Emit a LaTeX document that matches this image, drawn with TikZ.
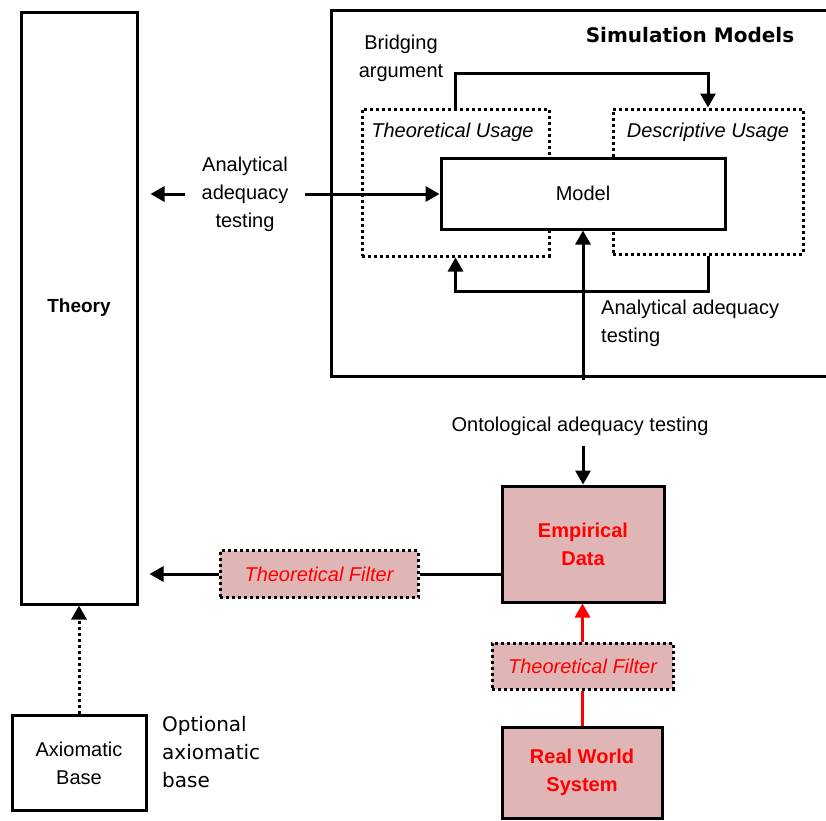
\documentclass[tikz,border=0pt]{standalone}
\usepackage{fontspec}
\setmainfont{Liberation Sans}
\newfontfamily\djv{DejaVu Sans}
\usetikzlibrary{arrows.meta}
\definecolor{filterpink}{HTML}{E0B5B5}
\tikzset{
  basefont/.style={font=\fontsize{20}{28}\selectfont},
  solidbox/.style={draw, line width=3pt, fill=white, inner sep=0pt, basefont},
  dotbox/.style={draw, line width=3pt, dash pattern=on 3pt off 3pt, inner sep=0pt, basefont},
  pinkbox/.style={solidbox, fill=filterpink, text=red, font=\fontsize{20}{28}\selectfont\bfseries, align=center},
  filterbox/.style={dotbox, fill=filterpink, text=red, font=\fontsize{20}{28}\selectfont\itshape},
  lbl/.style={basefont, inner sep=0pt, align=center},
  conn/.style={line width=3pt},
  arr/.style={conn, -{Triangle[length=14pt,width=15pt]}},
  dotarr/.style={line width=3pt, dash pattern=on 3pt off 3pt, -{Triangle[length=14pt,width=15pt]}}
}
\begin{document}
\begin{tikzpicture}[x=1pt,y=-1pt]
\useasboundingbox (0,0) rectangle (826,820);

% simulation models frame (open to the right)
\coordinate (simTR) at (840,10);
\coordinate (simTL) at (331,10);
\coordinate (simBL) at (331,376);
\coordinate (simBR) at (840,376);
\draw[conn] (simTR) -- (simTL) -- (simBL) -- (simBR);
\node[lbl, font=\djv\fontsize{20}{28}\selectfont\bfseries] (simTitle) at (690,35) {Simulation Models};

% usage regions and model
\node[dotbox, minimum width=187pt, minimum height=147pt] (theoUse) at (455.5,182.5) {};
\node[dotbox, minimum width=190pt, minimum height=145pt] (descUse) at (708,181.5) {};
\node[lbl, font=\fontsize{20}{28}\selectfont\itshape] (theoUseLbl) at (452.5,132) {Theoretical Usage};
\node[lbl, font=\fontsize{20}{28}\selectfont\itshape] (descUseLbl) at (708,132) {Descriptive Usage};
\node[solidbox, minimum width=284pt, minimum height=71pt] (model) at (583,193.5) {Model};

\node[lbl] (bridgeLbl) at (401,58.5) {Bridging\\argument};
\draw[arr] (theoUse.north) -- ++(0,-34) -| (descUse.north);
\draw[arr] (descUse.south) -- ++(0,36) -| (theoUse.south);
\node[lbl, anchor=west, align=left] (analRight) at (601,323) {Analytical adequacy\\testing};

% theory column
\node[solidbox, minimum width=116pt, minimum height=592pt, font=\fontsize{19}{26}\selectfont\bfseries] (theory) at (79,308) {Theory};

\node[lbl, inner xsep=16pt] (analLeft) at (245,194) {Analytical\\adequacy\\testing};
\draw[arr] (analLeft.east) -- (analLeft.east -| model.west);
\draw[arr, shorten >=12pt] (analLeft.west) -- (analLeft.west -| theory.east);

% empirical side
\node[pinkbox, minimum width=162pt, minimum height=116pt] (empirical) at (583,544) {Empirical\\Data};
\node[lbl, inner ysep=10pt] (ontoLbl) at (580,426) {Ontological adequacy testing};
\draw[arr, shorten <=26pt] (ontoLbl.north -| empirical.north) -- (empirical.north |- model.south);
\draw[arr] (ontoLbl.south -| empirical.north) -- (empirical.north);

\node[filterbox, minimum width=198pt, minimum height=47pt] (filterLeft) at (319,574) {Theoretical Filter};
\draw[conn] (empirical.west |- filterLeft.east) -- (filterLeft.east);
\draw[arr, shorten >=11pt] (filterLeft.west) -- (filterLeft.west -| theory.east);

\node[filterbox, minimum width=181pt, minimum height=46pt] (filterLow) at (582.5,666) {Theoretical Filter};
\node[pinkbox, minimum width=160pt, minimum height=91pt] (realWorld) at (582,772.5) {Real World\\System};
\draw[arr, red] (filterLow.north) -- (filterLow.north |- empirical.south);
\draw[conn, red] (realWorld.north) -- (realWorld.north |- filterLow.south);

% axiomatic base
\node[solidbox, minimum width=134pt, minimum height=95pt, align=center] (axiom) at (79,763) {Axiomatic\\Base};
\draw[dotarr] (axiom.north) -- (theory.south);
\node[lbl, anchor=west, align=left, font=\djv\fontsize{20}{28}\selectfont] (optLbl) at (162,752.5) {Optional\\axiomatic\\base};
\end{tikzpicture}
\end{document}
